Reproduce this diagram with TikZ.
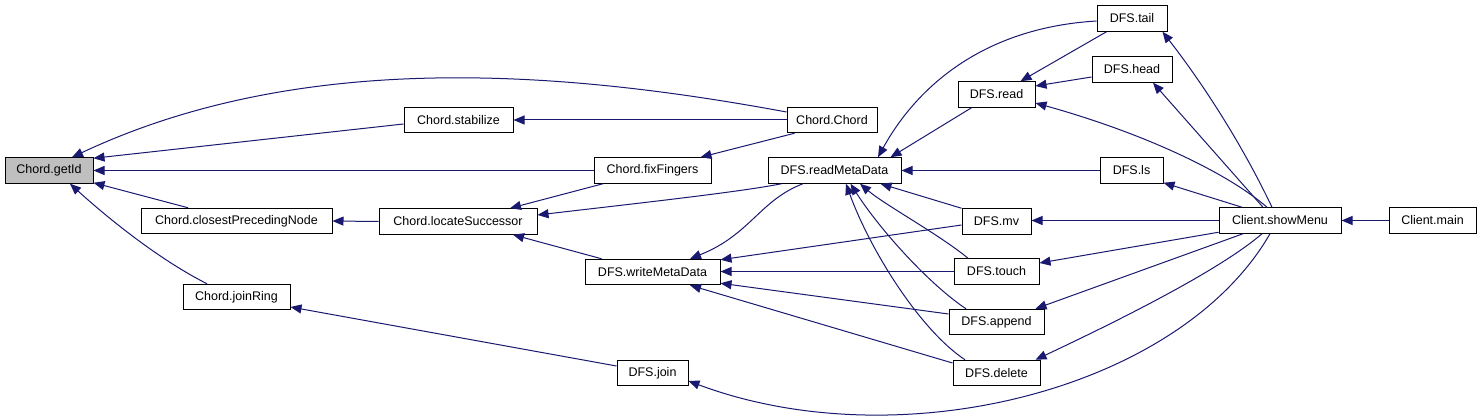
\documentclass[tikz,border=0pt]{standalone}
\usepackage{fontspec}
\setmainfont{Liberation Sans}
\usetikzlibrary{arrows.meta}
\definecolor{edgec}{HTML}{191970}
\definecolor{graybox}{HTML}{BFBFBF}
\tikzset{
  fn/.style={draw=black, line width=1pt, fill=white, minimum height=25.5pt, inner sep=0pt,
    font=\fontsize{12.5}{14}\selectfont},
  edge/.style={draw=edgec, line width=1pt, -{Triangle[length=11pt,width=9pt]}},
}
\begin{document}
\begin{tikzpicture}[x=1pt,y=-1pt]
\useasboundingbox[fill=white] (0,0) rectangle (1481,417);
% nodes
\node[fn, fill=graybox, minimum width=88pt] (getId) at (49,170.5) {Chord.getId};
\node[fn, minimum width=191pt] (cpn) at (236.5,221) {Chord.closestPrecedingNode};
\node[fn, minimum width=107pt] (jr) at (236.5,297) {Chord.joinRing};
\node[fn, minimum width=109pt] (stab) at (458.5,120) {Chord.stabilize};
\node[fn, minimum width=117pt] (ff) at (652.5,170.5) {Chord.fixFingers};
\node[fn, minimum width=158pt] (loc) at (458,221.5) {Chord.locateSuccessor};
\node[fn, minimum width=90pt] (cc) at (832,120) {Chord.Chord};
\node[fn, minimum width=133pt] (rmd) at (834.5,170.5) {DFS.readMetaData};
\node[fn, minimum width=135pt] (wmd) at (652.5,272) {DFS.writeMetaData};
\node[fn, minimum width=69pt] (mv) at (996.5,221.5) {DFS.mv};
\node[fn, minimum width=85pt] (touch) at (996.5,271.5) {DFS.touch};
\node[fn, minimum width=95pt] (app) at (996.5,322) {DFS.append};
\node[fn, minimum width=87pt] (del) at (996.5,373) {DFS.delete};
\node[fn, minimum width=71pt] (join) at (652.5,373) {DFS.join};
\node[fn, minimum width=70pt] (tail) at (1132,18.5) {DFS.tail};
\node[fn, minimum width=80pt] (head) at (1132,69.5) {DFS.head};
\node[fn, minimum width=77pt] (read) at (996.5,94.5) {DFS.read};
\node[fn, minimum width=63pt] (ls) at (1131.5,170.5) {DFS.ls};
\node[fn, minimum width=122pt] (sm) at (1280,220.5) {Client.showMenu};
\node[fn, minimum width=87pt] (main) at (1432.5,220.5) {Client.main};
% edges into getId
\draw[edge] ([yshift=8pt]cc.west) .. controls (560,70) and (300,50) .. ([xshift=23pt]getId.north);
\draw[edge] ([yshift=-4pt]stab.west) -- ([yshift=-1pt]getId.north east);
\draw[edge] (ff.west) -- (getId.east);
\draw[edge] ([xshift=-48.5pt]cpn.north) -- ([yshift=1pt]getId.south east);
\draw[edge] ([xshift=-29.5pt]jr.north) .. controls (160,260) and (110,220) .. ([xshift=21pt]getId.south);
% chord internals
\draw[edge] (cc.west) -- (stab.east);
\draw[edge] ([xshift=8pt]cc.south west) -- ([xshift=-11pt]ff.north east);
\draw[edge] (loc.west) -- (cpn.east);
\draw[edge] ([xshift=-49.5pt]ff.south) -- ([xshift=52pt]loc.north);
\draw[edge] ([xshift=14pt]rmd.south west) .. controls (740,192) and (640,203) .. ([yshift=6.5pt]loc.east);
\draw[edge] ([xshift=17pt]wmd.north west) -- ([xshift=55pt]loc.south);
\draw[edge] ([yshift=7pt]join.west) -- ([yshift=-10pt]jr.east);
% writeMetaData
\draw[edge] ([xshift=-31.5pt]rmd.south) .. controls (760,200) and (750,235) .. ([xshift=37.5pt]wmd.north);
\draw[edge] ([yshift=-3.5pt]mv.west) -- ([yshift=-1pt]wmd.north east);
\draw[edge] (touch.west) -- (touch.west -| wmd.east);
\draw[edge] ([yshift=8pt]app.west) -- ([yshift=2pt]wmd.south east);
\draw[edge] ([yshift=10pt]del.west) -- ([xshift=37.5pt]wmd.south);
% readMetaData
\draw[edge] (mv.north west) -- ([xshift=-21pt]rmd.south east);
\draw[edge] ([xshift=-28.5pt]touch.north) .. controls (940,235) and (885,205) .. ([xshift=25.5pt]rmd.south);
\draw[edge] ([xshift=-30.5pt]app.north) .. controls (930,285) and (880,230) .. ([xshift=16pt]rmd.south);
\draw[edge] ([xshift=-31.5pt]del.north) .. controls (920,330) and (870,250) .. ([xshift=11.5pt]rmd.south);
\draw[edge] ([xshift=14pt]read.south west) -- ([xshift=-11pt]rmd.north east);
\draw[edge] ([yshift=-2.5pt]tail.west) .. controls (980,28) and (915,90) .. ([xshift=43.5pt]rmd.north);
\draw[edge] (ls.west) -- (rmd.east);
% read
\draw[edge] ([xshift=10pt]tail.south west) -- ([xshift=-15pt]read.north east);
\draw[edge] ([yshift=-7.5pt]head.west) -- ([yshift=8.5pt]read.east);
% showMenu
\draw[edge] ([xshift=-13pt]sm.north) .. controls (1230,175) and (1150,135) .. ([yshift=-8.5pt]read.east);
\draw[edge] ([xshift=-8pt]sm.north) .. controls (1240,140) and (1200,80) .. ([xshift=-5pt]tail.south east);
\draw[edge] ([xshift=-17pt]sm.north) -- ([xshift=21pt]head.south);
\draw[edge] ([xshift=-38pt]sm.north) -- ([yshift=1pt]ls.south east);
\draw[edge] (sm.west) -- (sm.west -| mv.east);
\draw[edge] ([yshift=1.5pt]sm.south west) -- ([yshift=8.5pt]touch.east);
\draw[edge] ([xshift=-37pt]sm.south) -- ([xshift=-9pt]app.north east);
\draw[edge] ([xshift=-18pt]sm.south) .. controls (1220,270) and (1120,320) .. ([xshift=-5pt]del.north east);
\draw[edge] ([xshift=-10pt]sm.south) .. controls (1180,390) and (900,460) .. ([yshift=-8pt]join.east);
\draw[edge] (main.west) -- (sm.east);
\end{tikzpicture}
\end{document}
